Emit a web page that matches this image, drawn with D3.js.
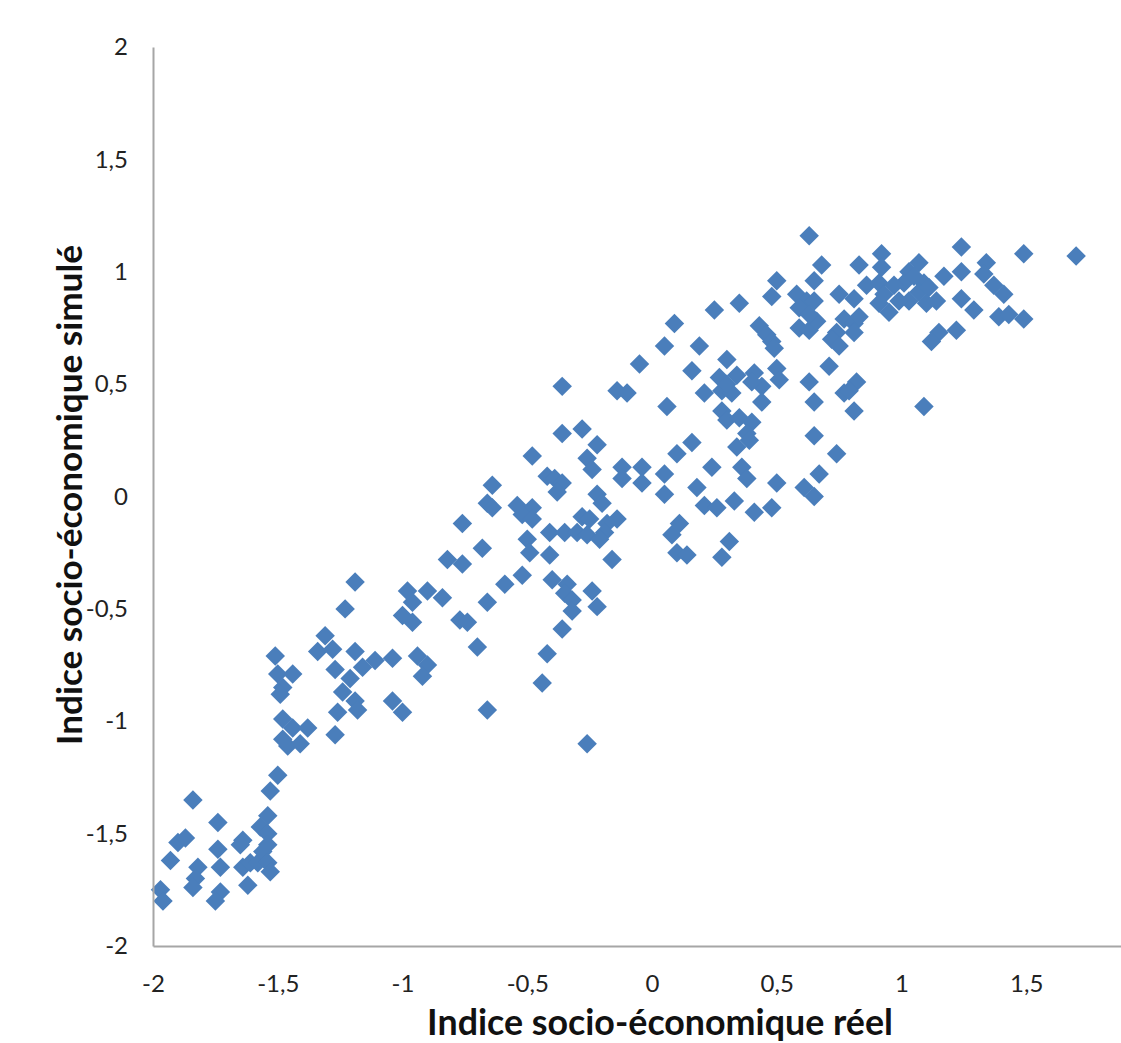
<!DOCTYPE html>
<html>
<head>
<meta charset="utf-8">
<script src="https://cdn.jsdelivr.net/npm/d3@7"></script>
<style>
  html, body { margin: 0; padding: 0; background: #fff; }
  svg { display: block; }
  .tick text { font-family: Lato, "Open Sans", sans-serif; fill: #222; }
</style>
</head>
<body>
<svg id="chart" width="1121" height="1043"></svg>
<script>
// ---- Data ----
const xTitle = "Indice socio-économique réel";
const yTitle = "Indice socio-économique simulé";
const xTickValues = [-2, -1.5, -1, -0.5, 0, 0.5, 1, 1.5];
const yTickValues = [-2, -1.5, -1, -0.5, 0, 0.5, 1, 1.5, 2];

// real index (x)
const realIndex = [
  -1.97,-1.96,-1.93,-1.90,-1.87,-1.84,-1.82,-1.83,-1.84,-1.74,-1.74,-1.73,-1.73,-1.75,-1.64,-1.65,-1.64,-1.62,-1.61,-1.58,-1.57,-1.54,-1.54,-1.54,-1.56,-1.54,-1.53,-1.53,-1.50,
  -1.51,-1.50,-1.48,-1.49,-1.48,-1.44,-1.38,-1.48,-1.46,-1.41,-1.44,-1.31,-1.34,-1.28,-1.19,-1.23,-1.19,-1.16,-1.11,-1.04,-1.27,-1.21,-1.24,-1.19,-1.18,-1.26,-1.27,-1.04,-1.00,-0.98,-0.90,-0.84,-0.96,-1.00,-0.96,-0.94,-0.90,-0.92,-0.82,-0.76,-0.68,-0.77,-0.74,-0.70,-0.66,-0.66,-0.59,
  -0.05,-0.36,-0.14,-0.10,-0.36,-0.28,-0.22,-0.26,-0.24,-0.48,-0.12,-0.12,-0.42,-0.39,-0.36,-0.38,-0.64,-0.66,-0.64,-0.22,-0.20,-0.54,-0.48,-0.52,-0.48,-0.28,-0.25,-0.14,-0.18,-0.19,-0.76,-0.41,-0.35,-0.30,-0.26,-0.21,-0.50,-0.49,-0.41,-0.16,-0.52,-0.40,-0.34,-0.35,-0.32,-0.32,-0.36,-0.24,-0.22,-0.42,-0.44,-0.26,
  0.63,0.68,0.83,0.50,0.65,0.48,0.58,0.62,0.65,0.59,0.75,0.81,0.86,0.25,0.35,0.59,0.63,0.66,0.63,0.77,0.81,0.83,0.74,0.72,0.75,0.81,0.43,0.46,0.48,0.49,0.09,0.05,0.19,0.16,0.30,0.50,0.51,0.71,0.27,0.34,0.41,0.44,0.40,0.21,0.28,0.32,0.30,0.63,0.82,0.77,0.79,0.44,0.65,0.81,0.06,0.28,0.30,0.35,0.40,0.38,0.39,0.34,0.16,0.10,0.65,0.74,-0.04,-0.04,0.05,0.05,0.24,0.36,0.38,0.18,0.50,0.67,0.61,0.65,0.21,0.26,0.33,0.41,0.48,0.11,0.08,0.10,0.14,0.31,0.28,
  1.24,1.49,1.70,0.92,1.07,0.92,1.34,1.24,1.17,1.03,1.01,0.91,1.09,1.07,1.11,1.33,1.37,1.41,1.24,1.29,1.39,1.43,1.49,1.03,1.10,1.14,0.91,0.95,1.15,1.22,1.12,1.09,0.93,1.05,0.97,0.99
];

// simulated index (y)
const simulatedIndex = [
  -1.75,-1.80,-1.62,-1.54,-1.52,-1.35,-1.65,-1.70,-1.74,-1.45,-1.57,-1.65,-1.76,-1.80,-1.53,-1.55,-1.65,-1.73,-1.63,-1.63,-1.47,-1.42,-1.50,-1.55,-1.58,-1.63,-1.67,-1.31,-1.24,
  -0.71,-0.79,-0.85,-0.88,-0.99,-1.03,-1.03,-1.08,-1.11,-1.10,-0.79,-0.62,-0.69,-0.68,-0.38,-0.50,-0.69,-0.76,-0.73,-0.72,-0.77,-0.81,-0.87,-0.91,-0.95,-0.96,-1.06,-0.91,-0.96,-0.42,-0.42,-0.45,-0.47,-0.53,-0.56,-0.71,-0.75,-0.80,-0.28,-0.30,-0.23,-0.55,-0.56,-0.67,-0.47,-0.95,-0.39,
  0.59,0.49,0.47,0.46,0.28,0.30,0.23,0.17,0.12,0.18,0.13,0.08,0.09,0.08,0.06,0.02,0.05,-0.03,-0.05,0.01,-0.03,-0.04,-0.05,-0.08,-0.10,-0.09,-0.10,-0.10,-0.12,-0.16,-0.12,-0.16,-0.16,-0.16,-0.17,-0.19,-0.19,-0.25,-0.26,-0.28,-0.35,-0.37,-0.39,-0.43,-0.46,-0.51,-0.59,-0.42,-0.49,-0.70,-0.83,-1.10,
  1.16,1.03,1.03,0.96,0.96,0.89,0.90,0.87,0.87,0.84,0.90,0.88,0.94,0.83,0.86,0.75,0.74,0.78,0.81,0.79,0.77,0.80,0.73,0.70,0.67,0.73,0.76,0.72,0.69,0.66,0.77,0.67,0.67,0.56,0.61,0.57,0.52,0.58,0.53,0.54,0.55,0.49,0.51,0.46,0.47,0.46,0.50,0.51,0.51,0.46,0.47,0.42,0.42,0.38,0.40,0.38,0.34,0.35,0.33,0.28,0.25,0.22,0.24,0.19,0.27,0.19,0.13,0.06,0.10,0.01,0.13,0.13,0.08,0.04,0.06,0.10,0.04,0.00,-0.04,-0.05,-0.02,-0.07,-0.05,-0.12,-0.17,-0.25,-0.26,-0.20,-0.27,
  1.11,1.08,1.07,1.08,1.04,1.02,1.04,1.00,0.98,1.00,0.95,0.95,0.95,0.91,0.93,0.99,0.94,0.90,0.88,0.83,0.80,0.81,0.79,0.87,0.86,0.87,0.86,0.82,0.73,0.74,0.69,0.40,0.90,0.98,0.94,0.87
];

// ---- Chart ----
const W = 1121, H = 1043;
const svg = d3.select("#chart");
svg.append("rect").attr("width", W).attr("height", H).attr("fill", "#fff");

const x = d3.scaleLinear().domain([-2, 2]).range([153, 1151]);
const y = d3.scaleLinear().domain([-2, 2]).range([946, 47]);
const fmt = d => String(d).replace(".", ",");

const points = realIndex.map((v, i) => ({ x: v, y: simulatedIndex[i] }));

// markers
const diamond = d3.symbol().type(d3.symbolSquare).size(190);
svg.append("g")
  .selectAll("path")
  .data(points)
  .join("path")
  .attr("d", diamond)
  .attr("transform", d => `translate(${x(d.x)},${y(d.y)}) rotate(45)`)
  .attr("fill", "#4a7ebb");

// axes
const xAxis = svg.append("g")
  .attr("transform", `translate(0,${y(-2)})`)
  .call(d3.axisBottom(x).tickValues(xTickValues).tickFormat(fmt).tickSize(0).tickSizeOuter(0).tickPadding(29));
const yAxis = svg.append("g")
  .attr("transform", `translate(${x(-2)},0)`)
  .call(d3.axisLeft(y).tickValues(yTickValues).tickFormat(fmt).tickSize(0).tickSizeOuter(0).tickPadding(25));

[xAxis, yAxis].forEach(g => {
  g.select(".domain").attr("stroke", "#a6a6a6").attr("stroke-width", 2);
  g.selectAll(".tick text").attr("font-size", 24).attr("font-family", "Lato, 'Open Sans', sans-serif").attr("fill", "#222");
});

// titles
function fitText(sel, target, base) {
  sel.attr("font-size", base);
  const w = sel.node().getComputedTextLength();
  sel.attr("font-size", base * target / w);
}
const xt = svg.append("text")
  .attr("x", 660).attr("y", 1035)
  .attr("text-anchor", "middle")
  .attr("font-family", "Lato, 'Open Sans', sans-serif")
  .attr("font-weight", "bold")
  .attr("fill", "#111")
  .text(xTitle);
fitText(xt, 466, 32);

const yt = svg.append("text")
  .attr("transform", "translate(82,495) rotate(-90)")
  .attr("text-anchor", "middle")
  .attr("font-family", "Lato, 'Open Sans', sans-serif")
  .attr("font-weight", "bold")
  .attr("fill", "#111")
  .text(yTitle);
fitText(yt, 500, 32);
</script>
</body>
</html>
